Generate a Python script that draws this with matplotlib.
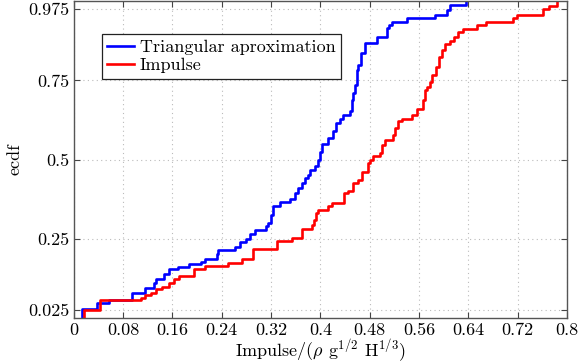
import numpy as np
import matplotlib
matplotlib.use("Agg")
import matplotlib.pyplot as plt

plt.rcParams['font.family'] = ['cmr10', 'DejaVu Serif']
plt.rcParams['mathtext.fontset'] = 'cm'
plt.rcParams['axes.formatter.use_mathtext'] = True

# step positions (x) and ecdf levels after each step
tri_x = [0.0130, 0.0130, 0.0373, 0.0568, 0.0946, 0.1152, 0.1298, 0.1330, 0.1460,
         0.1540, 0.1692, 0.1866, 0.2056, 0.2126, 0.2316, 0.2342, 0.2613, 0.2694,
         0.2790, 0.2856, 0.2937, 0.3116, 0.3153, 0.3197, 0.3229, 0.3343, 0.3505,
         0.3586, 0.3635, 0.3695, 0.3748, 0.3797, 0.3830, 0.3911, 0.3964, 0.3990,
         0.4020, 0.4122, 0.4203, 0.4252, 0.4316, 0.4370, 0.4479, 0.4511, 0.4527,
         0.4560, 0.4592, 0.4617, 0.4652, 0.4722, 0.4912, 0.5074, 0.5112, 0.5155,
         0.5399, 0.5858, 0.6048, 0.6101, 0.6361]
tri_y = [0.0, 0.028, 0.047, 0.056, 0.0805, 0.094, 0.1097, 0.1246, 0.138,
         0.154, 0.1623, 0.1696, 0.1768, 0.185, 0.201, 0.2145, 0.2252, 0.2388,
         0.2504, 0.2639, 0.2774, 0.290, 0.3007, 0.3268, 0.353, 0.3655, 0.3762,
         0.3951, 0.4108, 0.4265, 0.4432, 0.4527, 0.4684, 0.4790, 0.5000, 0.525,
         0.550, 0.568, 0.591, 0.617, 0.628, 0.641, 0.652, 0.689, 0.7097,
         0.7358, 0.783, 0.7987, 0.8355, 0.867, 0.886, 0.914, 0.9245, 0.935,
         0.9456, 0.956, 0.9717, 0.987, 1.0]

imp_x = [0.0162, 0.0162, 0.0422, 0.1082, 0.1163, 0.1245, 0.1326, 0.1428, 0.1542,
         0.1623, 0.1704, 0.1947, 0.2126, 0.2504, 0.2721, 0.2910, 0.3289, 0.3533,
         0.3695, 0.3857, 0.3895, 0.3935, 0.3964, 0.4127, 0.4191, 0.4386, 0.4451,
         0.4532, 0.4614, 0.4668, 0.4776, 0.4803, 0.4857, 0.4966, 0.4993, 0.5047,
         0.5172, 0.5209, 0.5263, 0.5318, 0.5490, 0.5561, 0.5658, 0.5696, 0.5728,
         0.5777, 0.5804, 0.5874, 0.5928, 0.5967, 0.6020, 0.6101, 0.6166, 0.6236,
         0.6307, 0.6535, 0.6686, 0.7129, 0.7194, 0.7606, 0.7713, 0.7833]
imp_y = [0.0, 0.0258, 0.0563, 0.0648, 0.072, 0.0805, 0.0909, 0.0981, 0.112,
         0.1246, 0.1327, 0.1538, 0.1642, 0.1749, 0.1853, 0.2167, 0.2428, 0.2535,
         0.2797, 0.2922, 0.311, 0.3322, 0.3425, 0.353, 0.3636, 0.395, 0.4023,
         0.4266, 0.437, 0.46, 0.4895, 0.500, 0.5124, 0.5209, 0.547, 0.5628,
         0.5785, 0.5996, 0.6203, 0.6288, 0.6414, 0.6593, 0.689, 0.720, 0.7304,
         0.746, 0.767, 0.793, 0.8248, 0.8459, 0.8647, 0.875, 0.8877, 0.9034,
         0.9110, 0.9245, 0.9349, 0.9456, 0.956, 0.974, 0.9843, 1.0]

xticks = [0, 0.08, 0.16, 0.24, 0.32, 0.4, 0.48, 0.56, 0.64, 0.72, 0.8]
xticklabels = ['0', '0.08', '0.16', '0.24', '0.32', '0.4', '0.48', '0.56', '0.64', '0.72', '0.8']
yticks = [0.025, 0.25, 0.5, 0.75, 0.975]
yticklabels = ['0.025', '0.25', '0.5', '0.75', '0.975']

fig = plt.figure(figsize=(5.81, 3.64), dpi=100)
ax = fig.add_axes([0.127, 0.126, 0.849, 0.871])

ax.step(tri_x, tri_y, where='post', color='#0000ff', lw=1.9, label='Triangular aproximation')
ax.step(imp_x, imp_y, where='post', color='#ff0000', lw=1.9, label='Impulse')

ax.set_xlim(0, 0.8)
ax.set_ylim(0, 1)
ax.set_xticks(xticks)
ax.set_xticklabels(xticklabels)
ax.set_yticks(yticks)
ax.set_yticklabels(yticklabels)
ax.tick_params(direction='in', top=True, right=True, labelsize=13, length=4,
               color='#444444', pad=3)
ax.grid(True, linestyle=(0, (1, 3)), color='#bbbbbb', lw=0.8)
for s in ax.spines.values():
    s.set_color('#555555')
    s.set_linewidth(1.0)

ax.set_xlabel(r'Impulse/($\rho$ g$^{1/2}$ H$^{1/3}$)', fontsize=13, labelpad=0)
ax.set_ylabel('ecdf', fontsize=13, labelpad=4)

leg = ax.legend(loc='upper left', bbox_to_anchor=(0.057, 0.896), borderaxespad=0,
                fancybox=False, framealpha=1, edgecolor='#222222', fontsize=13,
                handlelength=1.5, handletextpad=0.3, borderpad=0.3, labelspacing=0.15)
leg.get_frame().set_linewidth(0.9)

fig.savefig('out.png', dpi=100)
